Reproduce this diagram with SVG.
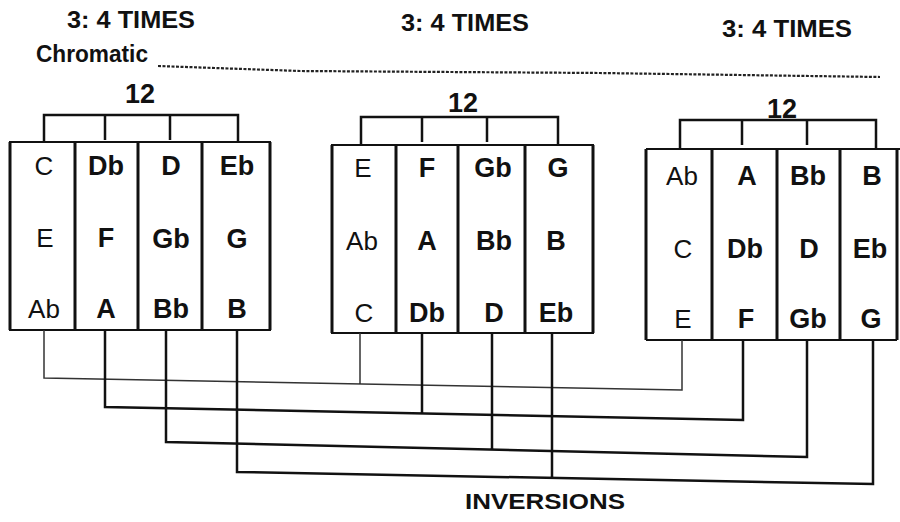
<svg xmlns="http://www.w3.org/2000/svg" width="900" height="522" viewBox="0 0 900 522">
<style>
text{font-family:"Liberation Sans",Arial,Helvetica,sans-serif;fill:#111}
.t{font-size:24px;font-weight:bold}
.ch{font-size:23px;font-weight:bold}
.n12{font-size:27px;font-weight:bold;text-anchor:middle}
.nb{font-size:27px;font-weight:bold;text-anchor:middle}
.nl{font-size:26px;font-weight:normal;text-anchor:middle}
.box{fill:none;stroke:#111;stroke-width:2}
.div{stroke:#111;stroke-width:3}
.br{fill:none;stroke:#111;stroke-width:2.5}
.c1{fill:none;stroke:#333;stroke-width:1.5}
.c{fill:none;stroke:#111;stroke-width:2.5}
</style>
<rect width="900" height="522" fill="#fff"/>
<g id="titles">
<text class="t" x="67" y="28" textLength="128" lengthAdjust="spacingAndGlyphs">3: 4 TIMES</text>
<text class="t" x="401" y="31" textLength="128" lengthAdjust="spacingAndGlyphs">3: 4 TIMES</text>
<text class="t" x="722" y="37" textLength="130" lengthAdjust="spacingAndGlyphs">3: 4 TIMES</text>
<text class="ch" x="36" y="62" textLength="112" lengthAdjust="spacingAndGlyphs">Chromatic</text>
<path d="M158,66 L300,71 L600,73 L880,77" fill="none" stroke="#222" stroke-width="2.2" stroke-dasharray="3 1.5"/>
<text x="545" y="509" font-size="22" font-weight="bold" text-anchor="middle" textLength="160" lengthAdjust="spacingAndGlyphs">INVERSIONS</text>
</g>
<g id="block1">
<path class="br" d="M44,142 V115 H238 V142 M105,115 V140 M170,115 V140"/>
<text class="n12" x="140" y="103">12</text>
<rect class="box" x="10" y="142" width="260" height="188"/>
<path class="div" d="M10,142 V330 M75,142 V330 M138,142 V330 M202,142 V330 M270,142 V330"/>
<text class="nl" x="44" y="175">C</text><text class="nb" x="106" y="175">Db</text><text class="nb" x="171" y="175">D</text><text class="nb" x="237" y="175">Eb</text>
<text class="nl" x="45" y="247">E</text><text class="nb" x="106" y="247">F</text><text class="nb" x="171" y="248">Gb</text><text class="nb" x="237" y="248">G</text>
<text class="nl" x="44" y="318">Ab</text><text class="nb" x="106" y="318">A</text><text class="nb" x="171" y="318">Bb</text><text class="nb" x="237" y="318">B</text>
</g>
<g id="block2">
<path class="br" d="M361,145 V117 H558 V145 M422,117 V142 M487,117 V142"/>
<text class="n12" x="463" y="112">12</text>
<rect class="box" x="332" y="145" width="261" height="188"/>
<path class="div" d="M332,145 V333 M396,145 V333 M458,145 V333 M525,145 V333 M593,145 V333"/>
<text class="nl" x="363" y="177">E</text><text class="nb" x="427" y="177">F</text><text class="nb" x="493" y="177">Gb</text><text class="nb" x="558" y="177">G</text>
<text class="nl" x="362" y="250">Ab</text><text class="nb" x="427" y="250">A</text><text class="nb" x="494" y="250">Bb</text><text class="nb" x="556" y="250">B</text>
<text class="nl" x="364" y="322">C</text><text class="nb" x="427" y="322">Db</text><text class="nb" x="494" y="322">D</text><text class="nb" x="556" y="322">Eb</text>
</g>
<g id="block3">
<path class="br" d="M680,149 V120 H876 V149 M742,120 V145 M807,120 V145"/>
<text class="n12" x="782" y="118">12</text>
<path class="box" d="M646,149 H900 M646,340 H897"/>
<path class="div" d="M646,149 V340 M712,149 V340 M777,149 V340 M840,149 V340 M897,149 V340"/>
<text class="nl" x="682" y="185">Ab</text><text class="nb" x="747" y="185">A</text><text class="nb" x="808" y="185">Bb</text><text class="nb" x="872" y="185">B</text>
<text class="nl" x="683" y="258">C</text><text class="nb" x="745" y="258">Db</text><text class="nb" x="809" y="258">D</text><text class="nb" x="870" y="258">Eb</text>
<text class="nl" x="683" y="328">E</text><text class="nb" x="746" y="328">F</text><text class="nb" x="808" y="328">Gb</text><text class="nb" x="871" y="328">G</text>
</g>
<g id="connectors">
<path class="c1" d="M44,330 V378 L682,390 V340 M360,333 V384"/>
<path class="c" d="M105,330 V407 L743,420 V340 M422,333 V413"/>
<path class="c" d="M166,330 V442 L807,457 V340 M492,333 V450"/>
<path class="c" d="M237,330 V472 L873,484 V340 M552,333 V478"/>
</g>
</svg>
